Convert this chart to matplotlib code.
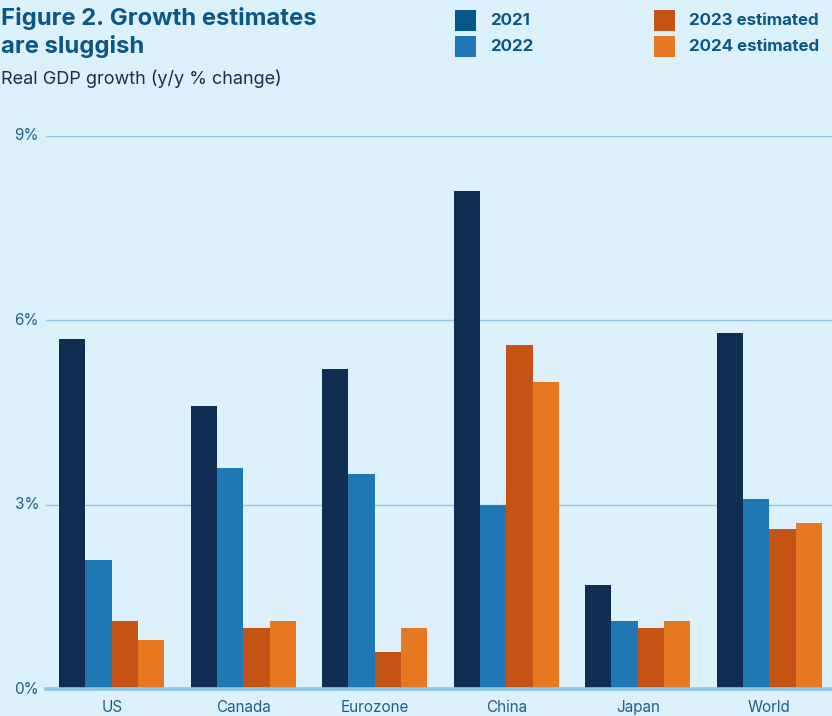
import matplotlib.pyplot as plt
import numpy as np
from matplotlib.patches import Rectangle

categories = ["US", "Canada", "Eurozone", "China", "Japan", "World"]
series_names = ["2021", "2022", "2023 estimated", "2024 estimated"]
v2021 = [5.7, 4.6, 5.2, 8.1, 1.7, 5.8]
v2022 = [2.1, 3.6, 3.5, 3.0, 1.1, 3.1]
v2023 = [1.1, 1.0, 0.6, 5.6, 1.0, 2.6]
v2024 = [0.8, 1.1, 1.0, 5.0, 1.1, 2.7]
yticks = [0, 3, 6, 9]
ytick_labels = ["0%", "3%", "6%", "9%"]

bar_colors = ["#102D52", "#1F77B4", "#C55316", "#E87722"]
legend_colors = ["#05568A", "#1F77B4", "#C55316", "#E87722"]
bg = "#DCF1FC"
grid_c = "#8EC6EA"
text_blue = "#0B5788"
tick_c = "#1F5F8F"

plt.rcParams['font.family'] = ['Inter', 'DejaVu Sans']

W, H = 832, 716
fig = plt.figure(figsize=(8.32, 7.16), dpi=100, facecolor=bg)
ax = fig.add_axes([46/W, 1-689/H, 789/W, 553/H])
ax.set_facecolor(bg)

x = np.arange(len(categories))
w = 0.2
for i, vals in enumerate([v2021, v2022, v2023, v2024]):
    ax.bar(x + (i - 1.5) * w, vals, width=w, color=bar_colors[i], zorder=3, linewidth=0)

ax.set_xlim(-0.5, 5.5)
ax.set_ylim(0, 9)
ax.set_yticks(yticks)
ax.set_yticklabels(ytick_labels)
ax.set_xticks(x)
ax.set_xticklabels(categories)
for s in ax.spines.values():
    s.set_visible(False)
for yv in yticks[1:]:
    ax.axhline(yv, color=grid_c, lw=1.0, zorder=1)
ax.axhline(0, color=grid_c, lw=2.6, zorder=4, clip_on=False)
ax.tick_params(axis='both', length=0, colors=tick_c, labelsize=11)
ax.tick_params(axis='y', pad=5)
ax.tick_params(axis='x', pad=8)
for lab in ax.get_yticklabels():
    lab.set_verticalalignment('center')

fig.text(1/W, 1-19/H, "Figure 2. Growth estimates", fontsize=17.2, fontweight='bold',
         color=text_blue, va='center', ha='left')
fig.text(1/W, 1-47/H, "are sluggish", fontsize=17.2, fontweight='bold',
         color=text_blue, va='center', ha='left')
fig.text(1/W, 1-79/H, "Real GDP growth (y/y % change)", fontsize=13,
         color="#1B2F4E", va='center', ha='left')

# legend (manual grid)
leg_pos = [(455, 10), (455, 36), (654, 10), (654, 36)]
for (lx, ly), c, name in zip(leg_pos, legend_colors, series_names):
    fig.patches.append(Rectangle((lx/W, 1-(ly+21)/H), 21/W, 21/H,
                                 transform=fig.transFigure, facecolor=c,
                                 edgecolor='none'))
    fig.text((lx+35)/W, 1-(ly+10.5)/H, name, fontsize=12.2, fontweight='bold',
             color=text_blue, va='center', ha='left')

fig.savefig("out.png", dpi=100, facecolor=bg)
